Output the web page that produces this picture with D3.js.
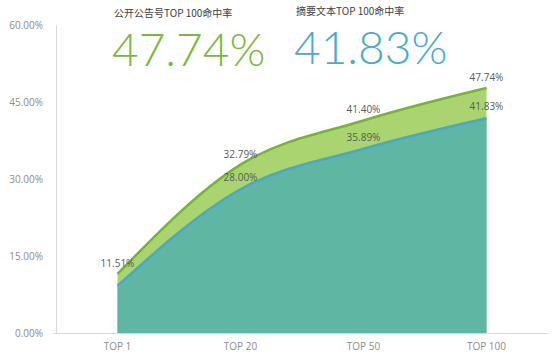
<!DOCTYPE html>
<html><head><meta charset="utf-8">
<script src="https://cdn.jsdelivr.net/npm/d3@7"></script>
<style>html,body{margin:0;padding:0;background:#fff;}svg{display:block;}</style>
</head><body>
<svg id="c" width="554" height="362"></svg>
<script>
const categories = ["TOP 1", "TOP 20", "TOP 50", "TOP 100"];
const announcementValues = [11.51, 32.79, 41.40, 47.74];
const abstractValues = [9.2, 28.00, 35.89, 41.83];
const abstractLabels = [null, "28.00%", "35.89%", "41.83%"];
const announcementLabels = ["11.51%", "32.79%", "41.40%", "47.74%"];
const yTicks = [0, 15, 30, 45, 60];
const titleA = "公开公告号TOP 100命中率";
const titleB = "摘要文本TOP 100命中率";
const bigA = "47.74%";
const bigB = "41.83%";

const svg = d3.select("#c");
const x = d3.scaleBand().domain(categories).range([56, 548]);
const cx = d => x(d) + x.bandwidth() / 2;
const y = d3.scaleLinear().domain([0, 60]).range([333, 25]);
const curve = d3.curveMonotoneX;

// axes
const yAxis = d3.axisLeft(y).tickValues(yTicks).tickSize(0).tickPadding(13)
  .tickFormat(d => d.toFixed(2) + "%");
const gy = svg.append("g").attr("transform", "translate(56,0)").call(yAxis);
gy.select(".domain").attr("stroke", "#d9d9d9");
gy.selectAll("text").attr("fill", "#8c8c8c").style("font-family", "'Open Sans', sans-serif").style("font-size", "10px");

const xAxis = d3.axisBottom(x).tickSize(0).tickPadding(10);
const gx = svg.append("g").attr("transform", "translate(0,333)").call(xAxis);
gx.select(".domain").attr("stroke", "#d9d9d9").attr("d", "M53,0.5H548");
gx.selectAll("text").attr("fill", "#8c8c8c").style("font-family", "'Open Sans', sans-serif").style("font-size", "10px");

const idx = d3.range(categories.length);
const areaA = d3.area().x(i => cx(categories[i])).y0(y(0)).y1(i => y(announcementValues[i])).curve(curve);
const areaB = d3.area().x(i => cx(categories[i])).y0(y(0)).y1(i => y(abstractValues[i])).curve(curve);
const lineA = d3.line().x(i => cx(categories[i])).y(i => y(announcementValues[i])).curve(curve);
const lineB = d3.line().x(i => cx(categories[i])).y(i => y(abstractValues[i])).curve(curve);

svg.append("path").attr("d", areaA(idx)).attr("fill", "#a9d46f");
svg.append("path").attr("d", areaB(idx)).attr("fill", "#5fb6a2");
svg.append("path").attr("d", lineA(idx)).attr("fill", "none").attr("stroke", "#74b62f").attr("stroke-width", 2.5);
svg.append("path").attr("d", lineB(idx)).attr("fill", "none").attr("stroke", "#46a8cc").attr("stroke-width", 2.5);

// data labels
const lbl = svg.append("g").style("font-family", "'Open Sans', sans-serif").style("font-size", "10px")
  .attr("fill", "#595959").attr("text-anchor", "middle");
idx.forEach(i => {
  lbl.append("text").attr("x", cx(categories[i])).attr("y", y(announcementValues[i]) - 7).text(announcementLabels[i]);
  if (abstractLabels[i]) lbl.append("text").attr("x", cx(categories[i])).attr("y", y(abstractValues[i]) - 8).text(abstractLabels[i]);
});

// headers
svg.append("text").attr("x", 114).attr("y", 17).attr("fill", "#404040")
  .style("font-family", "'Noto Sans CJK SC', sans-serif").style("font-size", "10px").text(titleA);
svg.append("text").attr("x", 296).attr("y", 15).attr("fill", "#404040")
  .style("font-family", "'Noto Sans CJK SC', sans-serif").style("font-size", "10px").text(titleB);
svg.append("text").attr("x", 112).attr("y", 66).attr("fill", "#79b83a")
  .style("font-family", "Lato, sans-serif").style("font-weight", 300).style("font-size", "46px").text(bigA);
svg.append("text").attr("x", 294).attr("y", 64).attr("fill", "#4aabc8")
  .style("font-family", "Lato, sans-serif").style("font-weight", 300).style("font-size", "46px").text(bigB);
</script>
</body></html>
